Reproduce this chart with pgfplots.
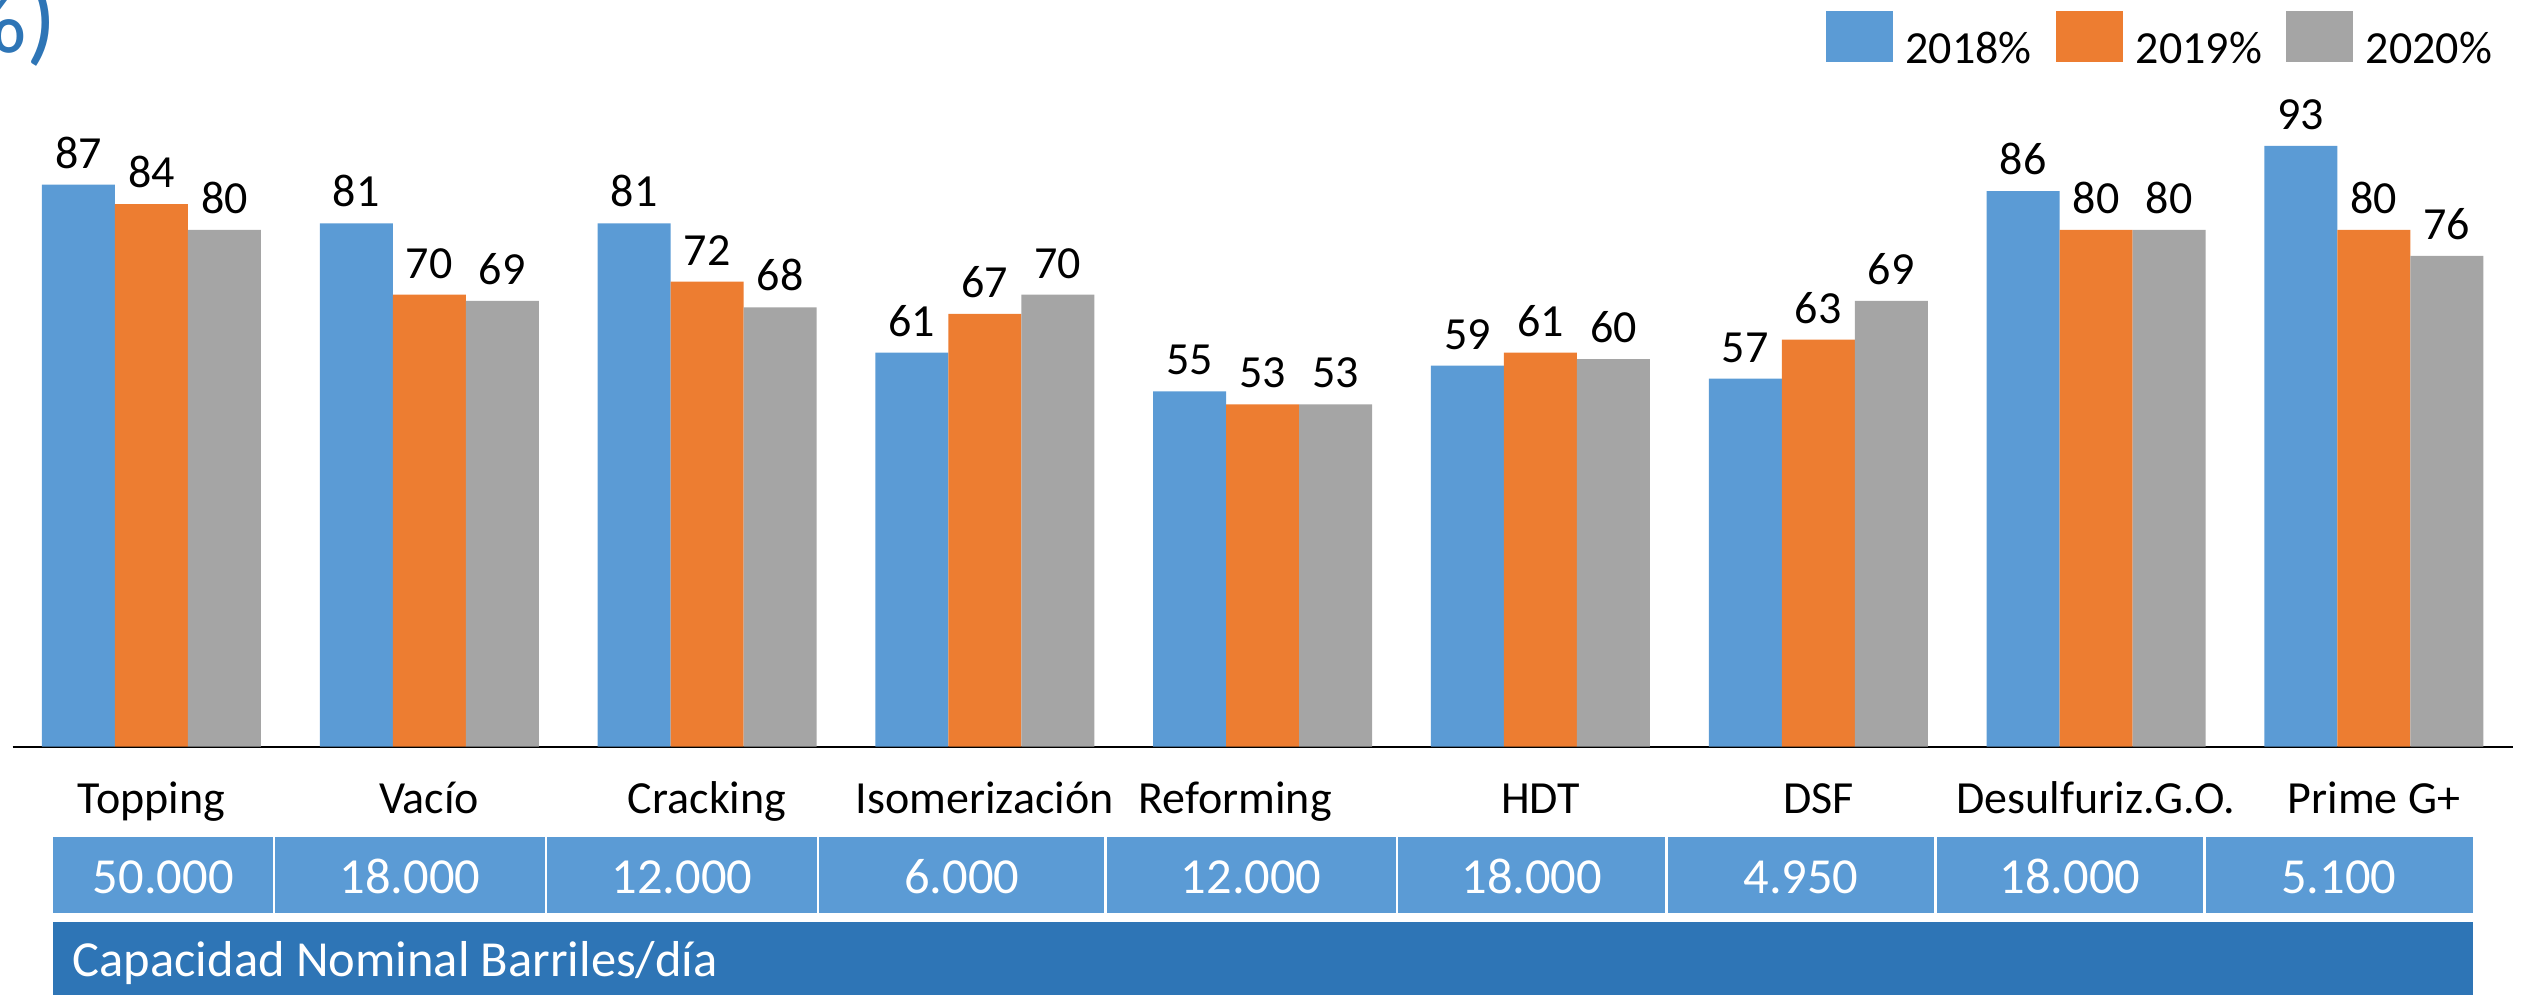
\documentclass[border=0pt]{standalone}
\usepackage{fontspec}
\setmainfont{Carlito}
\usepackage{pgfplots}
\pgfplotsset{compat=1.18}
\definecolor{c18}{HTML}{5B9BD5}
\definecolor{c19}{HTML}{ED7D31}
\definecolor{c20}{HTML}{A5A5A5}
\definecolor{dkblue}{HTML}{2E75B6}
\newcommand{\lab}{\fontsize{9.2}{11}\selectfont}
\newcommand{\tabf}{\fontsize{10.1}{12}\selectfont}
\begin{document}
\begin{tikzpicture}
\useasboundingbox (0,0) rectangle (505.2pt,-198.8pt);
% title fragment (cut off at the left edge)
\node[anchor=base east, inner sep=0pt, text=dkblue, font=\fontsize{20}{24}\selectfont] at (11.6pt,-10.4pt) {(\%)};
\begin{axis}[
  at={(2.52pt,-149.34pt)}, anchor=south west,
  scale only axis, width=500.04pt, height=129.2pt,
  xmin=-0.5, xmax=8.5, ymin=0, ymax=100,
  ybar=0pt, bar width=14.6pt,
  axis x line=bottom, axis y line=none,
  axis line style={-, line width=0.45pt, black},
  xtick={0,...,8},
  xticklabels={Topping, Vacío, Cracking, Isomerización, Reforming\hspace*{11pt}, HDT, DSF, Desulfuriz.G.O., Prime G+},
  xtick style={draw=none},
  xticklabel style={font=\lab, inner sep=0pt, text height=11pt, text depth=0pt, anchor=north},
  /pgf/number format/assume math mode=true,
  nodes near coords,
  nodes near coords style={font=\lab, black, inner sep=0pt, anchor=south, yshift=3.1pt, text depth=0pt},
  legend columns=3,
  legend style={at={(0.9917,1.1389)}, anchor=north east, draw=none, fill=none,
    inner sep=0pt, outer sep=0pt, font=\lab,
    /tikz/every odd column/.append style={column sep=2.6pt},
    /tikz/every even column/.append style={column sep=4.8pt},
    nodes={inner sep=0pt}},
  legend image code/.code={\fill[#1] (0pt,-2.14pt) rectangle (13.4pt,8.06pt);},
  clip=false,
]
\addplot[draw=none, fill=c18] coordinates {(0,87) (1,81) (2,81) (3,61) (4,55) (5,59) (6,57) (7,86) (8,93)};
\addplot[draw=none, fill=c19] coordinates {(0,84) (1,70) (2,72) (3,67) (4,53) (5,61) (6,63) (7,80) (8,80)};
\addplot[draw=none, fill=c20] coordinates {(0,80) (1,69) (2,68) (3,70) (4,53) (5,60) (6,69) (7,80) (8,76)};
\legend{2018\%, 2019\%, 2020\%}
\end{axis}
% capacity table
\fill[c18] (10.56pt,-167.34pt) rectangle (494.54pt,-182.66pt);
\foreach \x in {54.76,109.18,163.64,221.08,279.4,333.3,387.08,440.92}
  \draw[white, line width=0.5pt] (\x pt,-167.34pt) -- (\x pt,-182.66pt);
\foreach \x/\t in {32.66/50.000, 81.97/18.000, 136.41/12.000, 192.36/6.000, 250.24/12.000, 306.35/18.000, 360.19/4.950, 414.0/18.000, 467.73/5.100}
  \node[anchor=base, inner sep=0pt, text=white, font=\tabf] at (\x pt,-178.66pt) {\t};
\fill[dkblue] (10.56pt,-184.34pt) rectangle (494.54pt,-200pt);
\node[anchor=base west, inner sep=0pt, text=white, font=\tabf] at (14.36pt,-195.2pt) {Capacidad Nominal Barriles/día};
\end{tikzpicture}
\end{document}
